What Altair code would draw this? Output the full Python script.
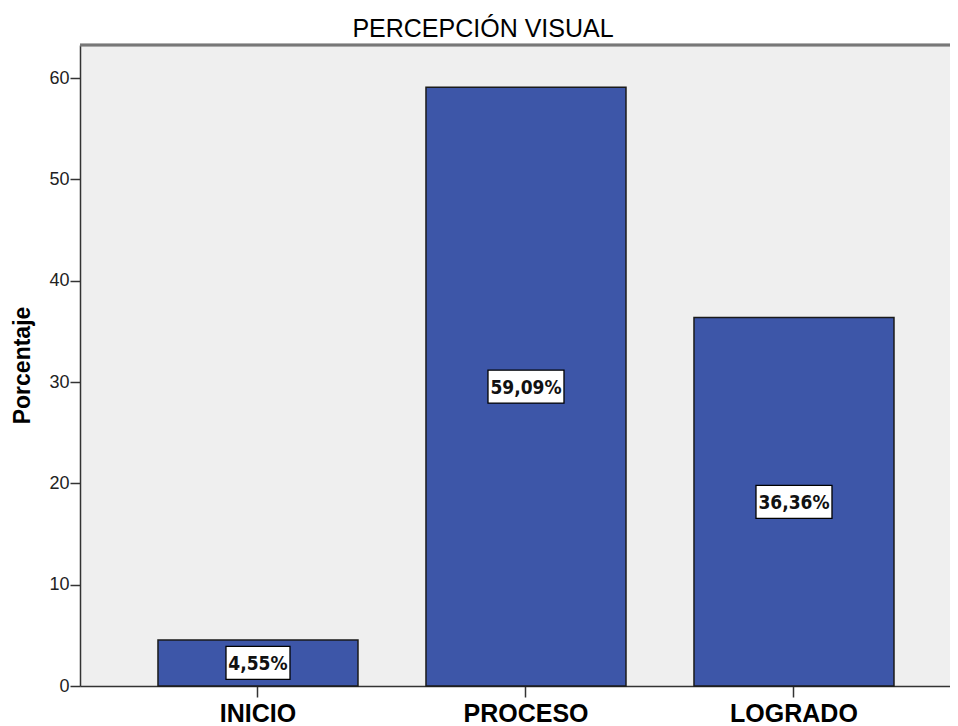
import altair as alt
import pandas as pd

categories = ["INICIO", "PROCESO", "LOGRADO"]
values = [4.55, 59.09, 36.36]
labels = ["4,55%", "59,09%", "36,36%"]
y_ticks = [0, 10, 20, 30, 40, 50, 60]

df = pd.DataFrame({"cat": categories, "val": values, "label": labels})

W, H = 870, 641
YMAX = 63.26
BAR = "#3D56A8"

xscale = alt.Scale(domain=categories, paddingInner=0.2537, paddingOuter=0.25, align=0.582)
yscale = alt.Scale(domain=[0, YMAX], nice=False, zero=True)

x_enc = alt.X("cat:N", scale=xscale, sort=categories,
              axis=alt.Axis(title=None, labelAngle=0, labelFont="Liberation Sans",
                            labelFontSize=25, labelFontWeight="bold", labelColor="#000",
                            labelPadding=4, labelBaseline="top",
                            tickSize=11, tickColor="#333", tickWidth=1.5,
                            domainColor="#333", domainWidth=1.5))

y_axis = alt.Axis(title="Porcentaje", values=y_ticks, grid=False,
                  labelFont="Liberation Sans", labelFontSize=18, labelColor="#222",
                  labelPadding=1, tickSize=10, tickColor="#333", tickWidth=1.5,
                  domainColor="#333", domainWidth=1.5,
                  titleFont="Liberation Sans", titleFontSize=23, titleFontWeight="bold",
                  titleColor="#000", titleAngle=-90, titleX=-58, titleY=320,
                  titleAlign="center", titleBaseline="middle")

base = alt.Chart(df)

bars = base.mark_bar(color=BAR, stroke="#1a1a1a", strokeWidth=1.5, width=200).encode(
    x=x_enc,
    y=alt.Y("val:Q", scale=yscale, axis=y_axis),
)

topline = base.mark_rule(color="#777", strokeWidth=2.5).encode(
    x=alt.value(0), x2=alt.value(W), y=alt.value(0)
)

mid = base.transform_calculate(
    mid="datum.val / 2",
    hw="(length(datum.label) * 12 + 4) / 76",
).transform_calculate(
    shp="'M-' + datum.hw + ',-0.434L' + datum.hw + ',-0.434L' + datum.hw + ',0.434L-' + datum.hw + ',0.434Z'"
)

boxes = mid.mark_point(
    filled=True, fill="white", stroke="#000", strokeWidth=1.3, opacity=1, size=76 * 76,
).encode(
    x=alt.X("cat:N", scale=xscale, sort=categories),
    y=alt.Y("mid:Q", scale=yscale),
    shape=alt.Shape("shp:N", scale=None, legend=None),
)

texts = mid.mark_text(
    font="Liberation Sans Narrow, DejaVu Sans Condensed, Liberation Sans",
    fontSize=19, fontWeight="bold", color="#111", baseline="middle", align="center", dy=1,
).encode(
    x=alt.X("cat:N", scale=xscale, sort=categories),
    y=alt.Y("mid:Q", scale=yscale),
    text="label:N",
)

chart = alt.layer(bars, topline, boxes, texts).properties(
    width=W, height=H,
    title=alt.TitleParams("PERCEPCIÓN VISUAL", font="Liberation Sans", fontSize=25,
                          fontWeight="normal", color="#000", anchor="middle", dx=-32,
                          offset=2),
    autosize=alt.AutoSizeParams(type="none"),
    padding={"left": 72, "top": 37, "right": 0, "bottom": 40},
    background="white",
).configure_view(fill="#EFEFEF", stroke=None)

chart.save("out.html", embed_options={"renderer": "svg", "actions": False})
